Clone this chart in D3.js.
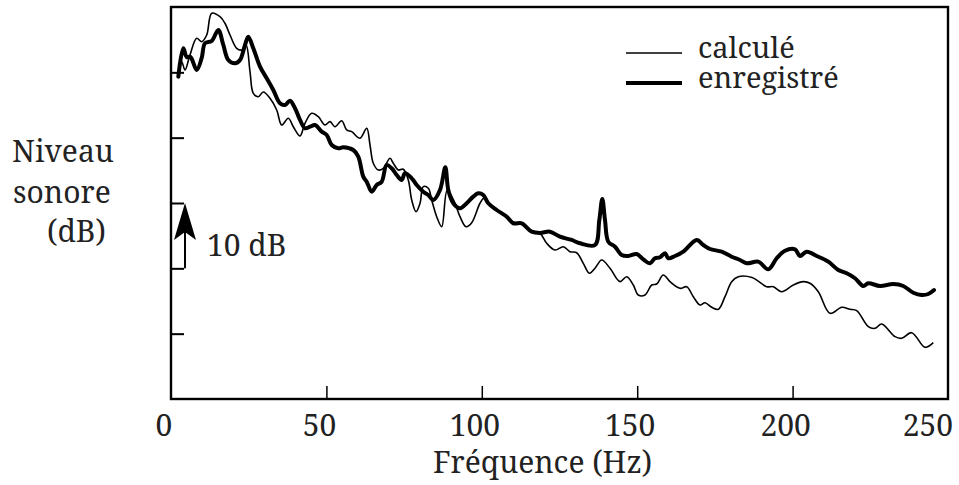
<!DOCTYPE html>
<html>
<head>
<meta charset="utf-8">
<script src="https://cdn.jsdelivr.net/npm/d3@7"></script>
<style>
html,body{margin:0;padding:0;background:#fff;}
svg{display:block;}
</style>
</head>
<body>
<svg id="chart" width="959" height="485"></svg>
<script>
// Frequency (Hz) and level (dB)
const calculeHz = [2.35,3.44,4.50,6.11,8.27,9.88,11.49,13.10,15.77,17.37,18.98,21.14,22.75,24.13,25.42,26.48,28.09,29.70,31.85,34.01,35.62,37.74,39.35,41.51,43.11,45.27,47.39,49.55,51.16,52.77,54.92,56.53,58.14,60.81,62.97,64.03,65.09,66.70,68.31,70.46,71.53,73.13,74.74,76.35,77.45,78.83,80.12,81.18,82.79,83.88,85.49,87.10,88.90,91.38,92.99,94.92,96.75,99.42,100.71,102.64,104.79,108.01,110.14,112.84,116.05,118.73,120.88,123.55,126.22,128.38,130.53,132.66,134.59,136.42,138.58,141.25,144.47,146.62,148.74,150.35,152.51,154.66,156.27,158.40,160.55,163.77,165.93,168.05,170.21,171.82,173.97,176.10,178.25,180.40,182.53,186.94,191.67,193.79,196.49,200.23,203.44,205.60,208.27,212.03,215.80,218.47,220.63,224.36,226.51,228.67,232.95,235.10,238.32,242.60,245.27];
const calculeDb = [49.59,51.63,50.36,52.66,55.21,54.69,55.72,59.04,58.52,57.51,55.72,53.68,53.42,54.19,50.10,46.79,46.27,46.99,46.03,44.24,41.94,42.97,41.68,40.26,42.20,43.73,43.21,41.94,42.45,41.68,42.60,41.18,40.92,39.91,41.44,38.88,36.08,35.05,35.31,36.84,36.08,35.05,35.16,33.52,30.46,28.67,29.96,32.50,32.25,30.46,27.90,26.37,31.99,29.96,27.90,26.37,26.99,29.96,30.72,29.70,28.93,27.90,27.09,26.79,25.72,25.36,23.83,22.81,23.31,22.55,22.39,20.77,19.24,20.01,21.28,20.01,17.96,18.72,17.45,15.92,15.92,17.45,17.60,18.98,17.96,16.94,17.19,15.66,14.39,14.74,14.04,13.73,15.66,17.96,18.72,18.60,17.19,17.19,16.42,17.45,17.96,17.71,16.42,13.12,14.04,13.73,13.52,11.07,10.82,11.48,9.54,9.29,10.15,7.91,8.62];

const enregistreHz = [2.35,3.96,5.05,6.27,8.27,9.88,10.94,13.10,15.22,16.83,18.44,20.59,22.20,23.81,24.87,26.48,28.64,30.79,32.91,35.07,36.68,38.29,39.90,41.51,43.11,44.72,46.33,48.49,50.10,51.71,53.83,55.44,58.65,60.26,61.87,62.97,64.58,66.18,67.79,69.40,71.01,72.62,74.23,75.29,77.45,79.05,81.18,82.79,84.39,86.55,88.26,89.22,90.83,92.99,95.14,97.26,98.87,100.48,102.09,104.79,108.01,110.14,112.84,116.05,118.73,121.94,125.16,128.92,131.60,136.42,137.81,138.77,139.64,140.70,142.86,145.01,147.14,149.84,151.96,154.12,155.73,157.34,158.94,160.01,162.16,164.83,169.14,171.27,173.42,177.19,180.40,183.08,185.23,188.96,192.18,194.88,197.55,200.77,202.38,204.53,207.75,211.49,214.70,217.41,220.08,222.75,224.36,228.12,232.40,235.62,238.84,241.54,243.66,245.50];
const enregistreDb = [49.33,53.68,52.35,52.35,50.36,52.20,54.45,54.80,56.48,54.19,51.89,51.39,51.89,54.19,55.46,53.68,50.87,49.09,47.30,45.26,45.00,45.66,44.50,42.71,41.44,41.68,41.94,40.92,40.41,38.88,38.37,38.53,38.11,37.09,34.03,33.26,31.73,32.76,33.26,35.82,35.31,34.29,33.52,34.55,33.78,32.76,31.73,31.23,30.46,31.99,35.47,31.99,29.96,29.19,29.96,30.97,31.49,31.23,29.96,28.93,27.90,26.89,26.89,25.61,25.41,25.61,24.84,24.34,23.83,23.57,27.40,30.61,27.40,24.08,23.31,22.04,21.89,22.20,21.38,20.77,21.54,21.69,22.30,21.54,21.89,22.55,24.34,23.57,22.96,22.55,21.78,21.28,20.77,21.02,19.85,21.54,22.70,22.91,21.89,22.55,21.89,21.02,19.75,19.24,18.48,17.30,17.71,17.30,17.60,17.30,16.27,15.92,16.07,16.68];

const xTickValues = [0,50,100,150,200,250];
const yTickValues = [10,20,30,40,50];
const seriesNames = ["calculé","enregistré"];
const yTitleLines = ["Niveau","sonore","(dB)"];
const xTitle = "Fréquence (Hz)";
const scaleLabel = "10 dB";
const scaleFrom = 20, scaleTo = 30, scaleAtHz = 4.5;

(function(){
const FONT = '"Noto Serif", "Liberation Serif", serif';
const svg = d3.select("#chart");
const mL = 171, mR = 948, mT = 7, mB = 399;
const x = d3.scaleLinear().domain([0,250]).range([mL,mR]);
const y = d3.scaleLinear().domain([0,60]).range([mB,mT]);
const FS = 30;
const TXT = "#222";
function txt(sel, size){ return sel.style("font-family",FONT).style("font-size",(size||FS)+"px").attr("fill",TXT); }

// frame
svg.append("rect").attr("x",mL).attr("y",mT).attr("width",mR-mL).attr("height",mB-mT)
  .attr("fill","none").attr("stroke","#000").attr("stroke-width",2.4);

// y ticks (inward)
const ya = svg.append("g").attr("transform",`translate(${mL},0)`)
  .call(d3.axisLeft(y).tickValues(yTickValues).tickSize(-13).tickFormat(""));
ya.select(".domain").remove();
ya.selectAll("line").attr("stroke","#000").attr("stroke-width",2);

// x ticks (inward)
const xa = svg.append("g").attr("transform",`translate(0,${mB})`)
  .call(d3.axisBottom(x).tickValues(xTickValues.filter(v=>v>0&&v<250)).tickSize(-13).tickFormat(""));
xa.select(".domain").remove();
xa.selectAll("line").attr("stroke","#000").attr("stroke-width",1.5);

// x tick labels
txt(svg.append("g").selectAll("text").data(xTickValues).join("text")
  .attr("x",(d,i)=> i===xTickValues.length-1 ? 953 : x(d)-7)
  .attr("y",436)
  .attr("text-anchor",(d,i)=> i===xTickValues.length-1 ? "end" : "middle")
  .text(d=>d));

// x title
txt(svg.append("text").attr("x",(mL+mR)/2-17).attr("y",473).attr("text-anchor","middle").text(xTitle));

// y title
const yTitleX = [12,13,47], yTitleY = [162,203,242];
yTitleLines.forEach((t,i)=>{
  txt(svg.append("text").attr("x",yTitleX[i]).attr("y",yTitleY[i]).text(t));
});

// lines
const lineGen = d3.line().x(d=>x(d[0])).y(d=>y(d[1])).curve(d3.curveCatmullRom.alpha(0.5));
const calc = calculeHz.map((f,i)=>[f,calculeDb[i]]);
const enr = enregistreHz.map((f,i)=>[f,enregistreDb[i]]);
svg.append("path").attr("d",lineGen(calc)).attr("fill","none").attr("stroke","#000")
  .attr("stroke-width",1.6).attr("stroke-linejoin","round");
svg.append("path").attr("d",lineGen(enr)).attr("fill","none").attr("stroke","#000")
  .attr("stroke-width",4).attr("stroke-linejoin","round").attr("stroke-linecap","round");

// 10 dB scale arrow
const ax = x(scaleAtHz);
const tipY = y(scaleTo), baseY = y(scaleFrom);
svg.append("line").attr("x1",ax).attr("x2",ax).attr("y1",baseY).attr("y2",tipY+20)
  .attr("stroke","#000").attr("stroke-width",2);
svg.append("path")
  .attr("d",`M${ax},${tipY} L${ax+11},${tipY+37} L${ax},${tipY+29} L${ax-11},${tipY+37} Z`)
  .attr("fill","#000");
txt(svg.append("text").attr("x",ax+22).attr("y",256).text(scaleLabel));

// legend
const lg = svg.append("g");
lg.append("line").attr("x1",626).attr("x2",682).attr("y1",53).attr("y2",53)
  .attr("stroke","#000").attr("stroke-width",1.3);
txt(lg.append("text").attr("x",698).attr("y",58).text(seriesNames[0]), 29);
lg.append("line").attr("x1",626).attr("x2",682).attr("y1",83).attr("y2",83)
  .attr("stroke","#000").attr("stroke-width",4);
txt(lg.append("text").attr("x",698).attr("y",88).text(seriesNames[1]), 29);
})();
</script>
</body>
</html>
